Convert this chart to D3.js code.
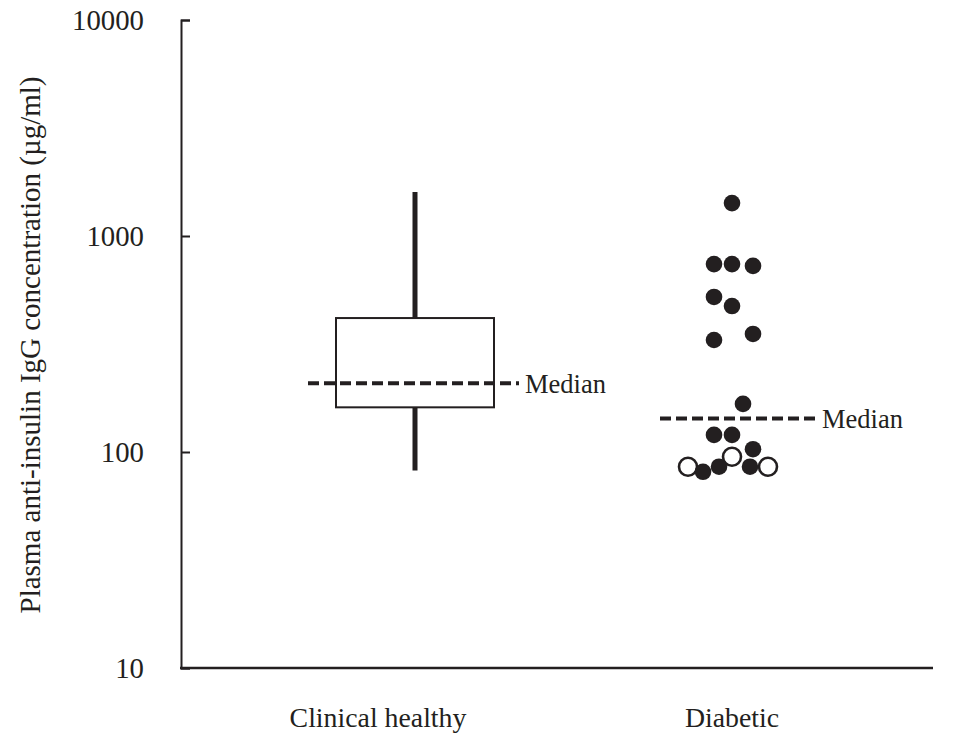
<!DOCTYPE html>
<html>
<head>
<meta charset="utf-8">
<script src="https://cdn.jsdelivr.net/npm/d3@7"></script>
<style>
  body { margin: 0; background: #fff; }
  text { font-family: "Liberation Serif", "Times New Roman", serif; fill: #231f20; }
</style>
</head>
<body>
<div id="chart"></div>
<script>
// groups on the x axis
const groups = ["Clinical healthy", "Diabetic"];
const yTicks = [10, 100, 1000, 10000];

// clinical healthy: box summary (µg/ml)
const healthyBox = { min: 82, q1: 161, median: 208, q3: 417, max: 1600 };

// diabetic: individual animals (value, horizontal slot in the swarm)
const diabeticFilled = [1420, 741, 741, 727, 522, 474, 330, 352, 167, 120, 120, 103, 81, 85.5, 85.5];
const diabeticFilledSlot = [0, -0.9, 0, 1.05, -0.9, 0, -0.9, 1.05, 0.55, -0.9, 0, 1.05, -1.45, -0.65, 0.9];
const diabeticOpen = [95, 85.5, 85.5];
const diabeticOpenSlot = [0, -2.2, 1.8];
const diabeticMedian = 143;

const ink = "#231f20";
const W = 961, H = 742;
const margin = {top: 20, right: 28, bottom: 74, left: 181};

const svg = d3.select("#chart").append("svg")
    .attr("width", W)
    .attr("height", H);

// log y scale 10 .. 10000
const y = d3.scaleLog()
    .domain([10, 10000])
    .range([H - margin.bottom, margin.top]);

// group centres
const x = d3.scalePoint()
    .domain(groups)
    .range([415, 732]);

// labels sit a little differently than the marks
const xLabel = d3.scalePoint()
    .domain(groups)
    .range([378, 732]);

// swarm slot -> px offset
const jitter = d3.scaleLinear().domain([-1, 1]).range([-20, 20]);

// y axis, ticks pointing inwards
const yAxis = svg.append("g")
    .attr("transform", `translate(${margin.left},0)`)
    .call(d3.axisLeft(y).tickValues(yTicks).tickFormat(d3.format("d"))
        .tickSizeInner(-9).tickSizeOuter(-9).tickPadding(37));
yAxis.select(".domain").attr("stroke", ink).attr("stroke-width", 2);
yAxis.selectAll(".tick line").attr("stroke", ink).attr("stroke-width", 2);
yAxis.selectAll(".tick text").style("font-size", "28.8px").attr("fill", ink);
yAxis.attr("font-family", null);

// x axis line
svg.append("line")
    .attr("x1", margin.left - 1).attr("x2", W - margin.right)
    .attr("y1", y(10)).attr("y2", y(10))
    .attr("stroke", ink).attr("stroke-width", 2.5);

svg.selectAll(".xlab")
    .data(groups)
    .enter().append("text")
    .attr("class", "xlab")
    .attr("x", d => xLabel(d))
    .attr("y", 727)
    .attr("text-anchor", "middle")
    .style("font-size", "27.8px")
    .text(d => d);

// y axis title
svg.append("text")
    .attr("transform", `translate(40,345) rotate(-90)`)
    .attr("text-anchor", "middle")
    .style("font-size", "29px")
    .text("Plasma anti-insulin IgG concentration (µg/ml)");

// ---- clinical healthy box ----
const hx = x("Clinical healthy");
const boxHalf = 79;

svg.append("line")
    .attr("x1", hx).attr("x2", hx)
    .attr("y1", y(healthyBox.max)).attr("y2", y(healthyBox.min))
    .attr("stroke", ink).attr("stroke-width", 5);

svg.append("rect")
    .attr("x", hx - boxHalf)
    .attr("y", y(healthyBox.q3))
    .attr("width", boxHalf * 2)
    .attr("height", y(healthyBox.q1) - y(healthyBox.q3))
    .attr("fill", "#fff")
    .attr("stroke", ink)
    .attr("stroke-width", 2);

// median lines with label
function medianLine(cx, value, left, right) {
    svg.append("line")
        .attr("x1", cx - left).attr("x2", cx + right)
        .attr("y1", y(value)).attr("y2", y(value))
        .attr("stroke", ink)
        .attr("stroke-width", 4)
        .attr("stroke-dasharray", "11,5");
    svg.append("text")
        .attr("x", cx + right + 6)
        .attr("y", y(value))
        .attr("dy", "0.35em")
        .style("font-size", "26.5px")
        .text("Median");
}
medianLine(hx, healthyBox.median, 107, 104);

// ---- diabetic swarm ----
const dx = x("Diabetic");

const openPts = diabeticOpen.map((v, i) => ({v: v, s: diabeticOpenSlot[i]}));
const filledPts = diabeticFilled.map((v, i) => ({v: v, s: diabeticFilledSlot[i]}));

svg.selectAll(".open")
    .data(openPts)
    .enter().append("circle")
    .attr("class", "open")
    .attr("cx", d => dx + jitter(d.s))
    .attr("cy", d => y(d.v))
    .attr("r", 9)
    .attr("fill", "#fff")
    .attr("stroke", ink)
    .attr("stroke-width", 2.6);

svg.selectAll(".filled")
    .data(filledPts)
    .enter().append("circle")
    .attr("class", "filled")
    .attr("cx", d => dx + jitter(d.s))
    .attr("cy", d => y(d.v))
    .attr("r", 8.3)
    .attr("fill", ink);

medianLine(dx, diabeticMedian, 72, 84);
</script>
</body>
</html>
